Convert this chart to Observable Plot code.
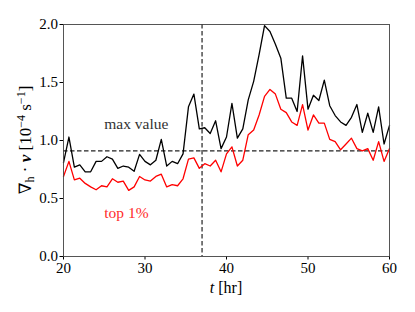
<!DOCTYPE html>
<html>
<head>
<meta charset="utf-8">
<script src="https://cdn.jsdelivr.net/npm/d3@7"></script>
<script src="https://cdn.jsdelivr.net/npm/@observablehq/plot@0.6"></script>
<style>
  html, body { margin: 0; padding: 0; background: white; }
  #chart { width: 415px; height: 312px; }
</style>
</head>
<body>
<div id="chart"></div>
<script>
// Time grid: 61 samples every 2/3 hr from 20 to 60 hr
const tStart = 20, tStep = 2 / 3;

const maxValue = [
  0.81, 1.03, 0.77, 0.79, 0.73, 0.73, 0.82, 0.82, 0.86, 0.84,
  0.76, 0.78, 0.77, 0.735, 0.88, 0.82, 0.79, 0.83, 1.01, 0.78,
  0.82, 0.80, 0.885, 1.29, 1.40, 1.10, 1.11, 1.06, 1.17, 0.93,
  1.03, 1.32, 1.02, 1.10, 1.35, 1.51, 1.74, 1.99, 1.94, 1.83,
  1.71, 1.365, 1.365, 1.25, 1.73, 1.27, 1.39, 1.345, 1.52, 1.30,
  1.215, 1.16, 1.13, 1.20, 1.31, 1.07, 1.235, 1.07, 1.29, 0.97,
  1.13
];

const top1 = [
  0.69, 0.82, 0.66, 0.675, 0.63, 0.60, 0.575, 0.61, 0.60, 0.67,
  0.64, 0.65, 0.57, 0.60, 0.69, 0.66, 0.65, 0.69, 0.71, 0.60,
  0.62, 0.61, 0.67, 0.84, 0.85, 0.76, 0.80, 0.78, 0.83, 0.73,
  0.885, 0.945, 0.78, 0.83, 1.05, 1.09, 1.22, 1.38, 1.44, 1.40,
  1.27, 1.24, 1.16, 1.13, 1.31, 1.09, 1.22, 1.15, 1.15, 1.01,
  0.99, 0.92, 0.97, 1.02, 0.93, 0.91, 0.93, 0.83, 0.99, 0.82,
  0.93
];

const xTicks = [20, 30, 40, 50, 60];
const yTicks = [0.0, 0.5, 1.0, 1.5, 2.0];
const threshold = 0.91;
const eventTime = 37;

const rows = maxValue.map((v, i) => ({ t: tStart + i * tStep, max: v, top: top1[i] }));

const serif = "'Liberation Serif', 'DejaVu Serif', serif";

const chart = Plot.plot({
  width: 415,
  height: 312,
  marginLeft: 63,
  marginRight: 26,
  marginTop: 24,
  marginBottom: 56,
  style: { fontFamily: serif, fontSize: "15px", background: "white", color: "black" },
  x: { domain: [20, 60], ticks: xTicks, tickFormat: d => String(d), label: null, tickSize: 3.5, tickPadding: 2 },
  y: { domain: [0, 2], ticks: yTicks, tickFormat: d3.format(".1f"), label: null, tickSize: 3.5, tickPadding: 2 },
  marks: [
    Plot.ruleY([threshold], { stroke: "#222", strokeWidth: 1.2, strokeDasharray: "4.5,2.5" }),
    Plot.ruleX([eventTime], { stroke: "#222", strokeWidth: 1.2, strokeDasharray: "4.5,2.5" }),
    Plot.line(rows, { x: "t", y: "max", stroke: "black", strokeWidth: 1.3 }),
    Plot.line(rows, { x: "t", y: "top", stroke: "#ff0000", strokeWidth: 1.3 }),
    Plot.text(["max value"], { x: 25, y: 1.1, text: d => d, textAnchor: "start", lineAnchor: "bottom", fill: "#333", fontSize: 15.5 }),
    Plot.text(["top 1%"], { x: 25, y: 0.335, text: d => d, textAnchor: "start", lineAnchor: "bottom", fill: "#ff2a2a", fontSize: 15.5 }),
    Plot.frame({ stroke: "#444", strokeWidth: 0.9 })
  ]
});

const svg = d3.select(chart);

// y-axis label: ∇h · v [10^-4 s^-1]
const yl = svg.append("text")
  .attr("transform", "translate(31,140) rotate(-90)")
  .attr("text-anchor", "middle")
  .attr("fill", "black")
  .style("font-family", serif)
  .style("font-size", "17px");
yl.append("tspan").text("\u2207");
yl.append("tspan").attr("dy", 3).style("font-size", "12px").text("h");
yl.append("tspan").attr("dy", -3).text(" \u00B7 ");
yl.append("tspan").style("font-weight", "bold").style("font-style", "italic").text("v");
yl.append("tspan").text(" [10");
yl.append("tspan").attr("dy", -6.5).style("font-size", "12px").text("\u22124");
yl.append("tspan").attr("dy", 6.5).text(" s");
yl.append("tspan").attr("dy", -6.5).style("font-size", "12px").text("\u22121");
yl.append("tspan").attr("dy", 6.5).text("]");

// x-axis label: t [hr]
const xl = svg.append("text")
  .attr("x", 226)
  .attr("y", 293)
  .attr("text-anchor", "middle")
  .attr("fill", "black")
  .style("font-family", serif)
  .style("font-size", "16px");
xl.append("tspan").style("font-style", "italic").text("t");
xl.append("tspan").text(" [hr]");

document.getElementById("chart").appendChild(chart);
</script>
</body>
</html>
